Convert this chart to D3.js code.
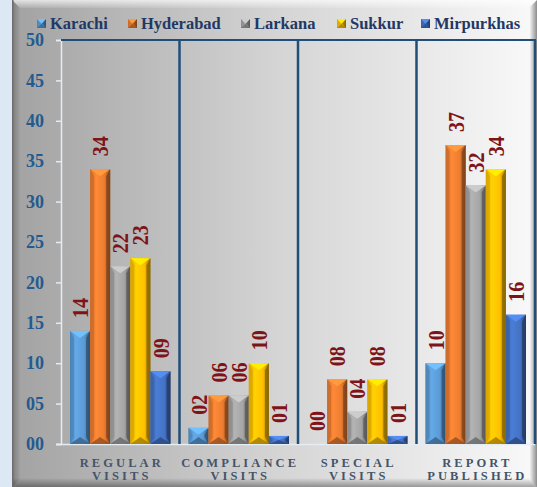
<!DOCTYPE html>
<html>
<head>
<meta charset="utf-8">
<script src="https://cdnjs.cloudflare.com/ajax/libs/d3/7.8.5/d3.min.js"></script>
<style>
  body { margin: 0; background: #dce9f5; }
  svg { display: block; }
</style>
</head>
<body>
<div id="chart"></div>
<script>
const categories = [["REGULAR", "VISITS"], ["COMPLIANCE", "VISITS"], ["SPECIAL", "VISITS"], ["REPORT", "PUBLISHED"]];
const seriesNames = ["Karachi", "Hyderabad", "Larkana", "Sukkur", "Mirpurkhas"];
const seriesColors = ["#5b9bd5", "#ed7d31", "#a5a5a5", "#ffc000", "#4472c4"];
// values per series, one per category
const karachi = [14, 2, 0, 10];
const hyderabad = [34, 6, 8, 37];
const larkana = [22, 6, 4, 32];
const sukkur = [23, 10, 8, 34];
const mirpurkhas = [9, 1, 1, 16];
const yTicks = [0, 5, 10, 15, 20, 25, 30, 35, 40, 45, 50];

function init() {
    const w = 537, h = 487;
    const values = [karachi, hyderabad, larkana, sukkur, mirpurkhas];
    const serif = "'Liberation Serif', 'Times New Roman', serif";

    const svg = d3.select("#chart").append("svg")
        .attr("width", w)
        .attr("height", h);

    const defs = svg.append("defs");

    // chart area gradient (dark grey left -> white right)
    const bg = defs.append("linearGradient").attr("id", "bg")
        .attr("x1", 0).attr("x2", 1).attr("y1", 0).attr("y2", 0);
    bg.append("stop").attr("offset", "0%").attr("stop-color", "#a2a2a2");
    bg.append("stop").attr("offset", "50%").attr("stop-color", "#d4d4d4");
    bg.append("stop").attr("offset", "100%").attr("stop-color", "#f9f9f9");

    const topBev = defs.append("linearGradient").attr("id", "topBev")
        .attr("x1", 0).attr("x2", 0).attr("y1", 0).attr("y2", 1);
    topBev.append("stop").attr("offset", "0%").attr("stop-color", "#ffffff").attr("stop-opacity", 0.7);
    topBev.append("stop").attr("offset", "100%").attr("stop-color", "#ffffff").attr("stop-opacity", 0.1);

    const leftBev = defs.append("linearGradient").attr("id", "leftBev")
        .attr("x1", 0).attr("x2", 1).attr("y1", 0).attr("y2", 0);
    leftBev.append("stop").attr("offset", "0%").attr("stop-color", "#000").attr("stop-opacity", 0.25);
    leftBev.append("stop").attr("offset", "100%").attr("stop-color", "#000").attr("stop-opacity", 0.02);

    const botBev = defs.append("linearGradient").attr("id", "botBev")
        .attr("x1", 0).attr("x2", 0).attr("y1", 0).attr("y2", 1);
    botBev.append("stop").attr("offset", "0%").attr("stop-color", "#000").attr("stop-opacity", 0);
    botBev.append("stop").attr("offset", "100%").attr("stop-color", "#000").attr("stop-opacity", 0.35);

    const rightBev = defs.append("linearGradient").attr("id", "rightBev")
        .attr("x1", 0).attr("x2", 1).attr("y1", 0).attr("y2", 0);
    rightBev.append("stop").attr("offset", "0%").attr("stop-color", "#ffffff");
    rightBev.append("stop").attr("offset", "100%").attr("stop-color", "#8c8c8c");

    // bar face gradients
    seriesColors.forEach((c, i) => {
        const g = defs.append("linearGradient").attr("id", "bar" + i)
            .attr("x1", 0).attr("x2", 1).attr("y1", 0).attr("y2", 0);
        const base = d3.color(c);
        g.append("stop").attr("offset", "0%").attr("stop-color", base.darker(0.3));
        g.append("stop").attr("offset", "30%").attr("stop-color", base.brighter(0.25));
        g.append("stop").attr("offset", "70%").attr("stop-color", base);
        g.append("stop").attr("offset", "100%").attr("stop-color", base.darker(1.2));
    });

    // chart frame with bevel
    svg.append("rect").attr("x", 12).attr("y", 0).attr("width", w - 12).attr("height", h)
        .attr("fill", "url(#bg)");
    svg.append("polygon")
        .attr("points", [[12, 0], [w, 0], [w - 8, 8], [20, 8]].join(" "))
        .attr("fill", "url(#topBev)");
    svg.append("polygon")
        .attr("points", [[12, 0], [20, 8], [20, 479], [12, h]].join(" "))
        .attr("fill", "url(#leftBev)");
    svg.append("rect").attr("x", 12).attr("y", 478).attr("width", w - 12).attr("height", 9)
        .attr("fill", "url(#botBev)");
    svg.append("polygon")
        .attr("points", [[529, 8], [w, 0], [w, h], [529, 479]].join(" "))
        .attr("fill", "url(#rightBev)");
    svg.append("rect").attr("x", 12).attr("y", 0).attr("width", 1.5).attr("height", h)
        .attr("fill", "#6e6e6e");

    // scales
    const x0 = d3.scaleBand()
        .domain(d3.range(categories.length))
        .range([61, 535])
        .paddingInner(0)
        .paddingOuter(0);

    const x1 = d3.scaleBand()
        .domain(d3.range(seriesNames.length))
        .range([9, x0.bandwidth() - 9])
        .padding(0);

    const y = d3.scaleLinear()
        .domain([0, 50])
        .range([444, 40]);

    // y axis
    const yAxis = svg.append("g")
        .attr("transform", "translate(61,0)")
        .call(d3.axisLeft(y).tickValues(yTicks).tickFormat(d3.format("02d")).tickSize(5).tickPadding(12));
    yAxis.select(".domain").attr("stroke", "#e4ecf4").attr("stroke-width", 1.5);
    yAxis.selectAll(".tick line").attr("stroke", "#e4ecf4").attr("stroke-width", 1.5);
    yAxis.selectAll(".tick text")
        .attr("fill", "#235b90")
        .style("font-family", serif)
        .style("font-weight", "bold")
        .style("font-size", "18px");

    // x axis baseline
    svg.append("line")
        .attr("x1", 56).attr("x2", 535)
        .attr("y1", y(0) + 0.5).attr("y2", y(0) + 0.5)
        .attr("stroke", "#e4ecf4").attr("stroke-width", 1.5);

    // plot border (top, right) and group separators
    svg.append("line").attr("x1", 61).attr("x2", 536).attr("y1", y(50)).attr("y2", y(50))
        .attr("stroke", "#1f4e79").attr("stroke-width", 2);
    svg.selectAll(".sep")
        .data(d3.range(1, categories.length + 1))
        .enter()
        .append("line")
        .attr("class", "sep")
        .attr("x1", (d) => x0(d) !== undefined ? x0(d) : x0.range()[1])
        .attr("x2", (d) => x0(d) !== undefined ? x0(d) : x0.range()[1])
        .attr("y1", y(50))
        .attr("y2", y(0))
        .attr("stroke", "#1f4e79")
        .attr("stroke-width", 2.5);

    // beveled bar drawing
    function bevelBar(g, bx, by, bw, bh, i) {
        const base = d3.color(seriesColors[i]);
        const b = Math.min(4, bw / 2, bh / 2);
        const t = Math.min(7, bh / 2);
        g.append("rect").attr("x", bx).attr("y", by).attr("width", bw).attr("height", bh)
            .attr("fill", "url(#bar" + i + ")");
        // left strip
        g.append("polygon")
            .attr("points", [[bx, by], [bx + b, by + t], [bx + b, by + bh - t], [bx, by + bh]].join(" "))
            .attr("fill", base.darker(0.5)).attr("opacity", 0.7);
        // right strip
        g.append("polygon")
            .attr("points", [[bx + bw, by], [bx + bw - b, by + t], [bx + bw - b, by + bh - t], [bx + bw, by + bh]].join(" "))
            .attr("fill", base.darker(2)).attr("opacity", 0.7);
        // top chevron
        g.append("polygon")
            .attr("points", [[bx, by], [bx + bw, by], [bx + bw / 2, by + t]].join(" "))
            .attr("fill", base.brighter(0.6));
        // bottom chevron
        g.append("polygon")
            .attr("points", [[bx, by + bh], [bx + bw, by + bh], [bx + bw / 2, by + bh - t]].join(" "))
            .attr("fill", base.darker(1.3)).attr("opacity", 0.8);
    }

    const groups = svg.selectAll(".grp")
        .data(categories)
        .enter()
        .append("g")
        .attr("class", "grp")
        .attr("transform", (d, ci) => "translate(" + x0(ci) + ",0)");

    groups.each(function (d, ci) {
        const g = d3.select(this);
        values.forEach((vals, si) => {
            const v = vals[ci];
            const bx = x1(si), bw = x1.bandwidth();
            if (v > 0) {
                bevelBar(g, bx, y(v), bw, y(0) - y(v), si);
            }
            // rotated value label, glyphs a bit taller like the original
            g.append("text")
                .attr("transform", "translate(" + (bx + bw / 2) + "," + (y(v) - 13) + ") rotate(-90) scale(1,1.15)")
                .attr("text-anchor", "start")
                .attr("dy", "0.35em")
                .attr("fill", "#7f1418")
                .style("font-family", serif)
                .style("font-weight", "bold")
                .style("font-size", "20px")
                .text(d3.format("02d")(v));
        });

        // category labels
        const lbl = g.append("text")
            .attr("text-anchor", "middle")
            .attr("fill", "#44546a")
            .style("font-family", serif)
            .style("font-weight", "bold")
            .style("font-size", "12.5px")
            .style("letter-spacing", "3.1px");
        d.forEach((line, li) => {
            lbl.append("tspan")
                .attr("x", x0.bandwidth() / 2 + 1.5)
                .attr("y", 467 + li * 13)
                .text(line);
        });
    });

    // legend
    const legendX = [37, 128, 241, 337, 421];
    const legend = svg.selectAll(".leg")
        .data(seriesNames)
        .enter()
        .append("g")
        .attr("class", "leg")
        .attr("transform", (d, i) => "translate(" + legendX[i] + ",19)");
    legend.each(function (d, i) {
        const g = d3.select(this);
        bevelBar(g, 0, 0, 9, 9, i);
    });
    legend.append("text")
        .attr("x", 13)
        .attr("y", 9.5)
        .attr("fill", "#1f3864")
        .style("font-family", serif)
        .style("font-weight", "bold")
        .style("font-size", "16.5px")
        .text((d) => d);
}
window.onload = init;
</script>
</body>
</html>
